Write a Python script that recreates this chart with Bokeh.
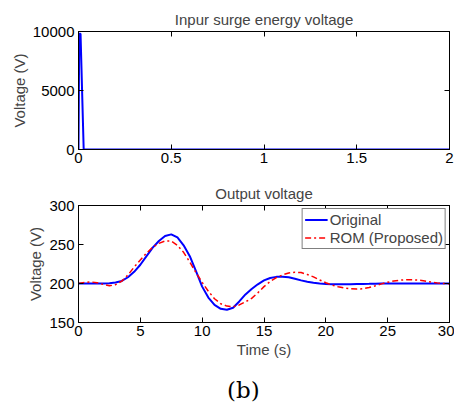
from bokeh.plotting import figure
from bokeh.models import Range1d, LinearAxis, FixedTicker, Legend, LegendItem, Div
from bokeh.layouts import column
from bokeh.embed import file_html
from bokeh.resources import INLINE

# ---- data ----
surge_t = [0.0, 0.004, 0.011, 0.028, 2.0]
surge_v = [0, 9800, 9800, 0, 0]

time_s = [0, 0.5, 1, 1.5, 2, 2.5, 3, 3.5, 4, 4.5, 5, 5.5, 6, 6.5, 7, 7.5, 8, 8.5, 9, 9.5,
          10, 10.5, 11, 11.5, 12, 12.5, 13, 13.5, 14, 14.5, 15, 15.5, 16, 16.5, 17, 17.5,
          18, 18.5, 19, 19.5, 20, 20.5, 21, 21.5, 22, 22.5, 23, 23.5, 24, 24.5, 25, 25.5,
          26, 26.5, 27, 27.5, 28, 28.5, 29, 29.5, 30]
original = [200, 200, 200, 200, 200, 200.3, 201.2, 203.3, 208, 215, 224, 235, 246, 254.5,
            261, 263, 259, 249, 235, 216, 196, 182, 172.5, 167.5, 166.3, 169, 177, 186, 193,
            199, 204, 207, 208.5, 208.8, 208, 206, 204, 202.3, 201, 200, 199.4, 199.1, 199,
            199, 199.1, 199.3, 199.5, 199.6, 199.8, 199.9, 200, 200, 200, 200, 200, 200, 200,
            200, 200, 200, 200]
rom = [200, 201.5, 202, 201, 198.8, 197, 198.5, 203, 211, 221, 230, 239, 246.5, 251.5, 254.5,
       254.5, 249, 240, 227.5, 214, 201.5, 190, 180.5, 174, 171, 170.2, 172.5, 176.5, 181, 188,
       196, 202.5, 207.5, 211, 213.5, 214.5, 214, 211.5, 208.5, 204.5, 201, 198, 195.8, 194.2,
       193.2, 192.8, 193.3, 194.8, 197, 199.5, 201.6, 203.2, 204.3, 204.8, 204.8, 204.3, 203.2,
       202, 200.8, 200, 199.5]

top_xticks = [0, 0.5, 1, 1.5, 2]
top_xlabels = ["0", "0.5", "1", "1.5", "2"]
top_yticks = [0, 5000, 10000]
bot_xticks = [0, 5, 10, 15, 20, 25, 30]
bot_yticks = [150, 200, 250, 300]

FONT = "Liberation Sans"
FS = "15px"


def style(p, xt, yt, xlabels=None):
    p.outline_line_color = "black"
    p.outline_line_width = 1
    p.xgrid.visible = False
    p.ygrid.visible = False
    p.title.text_font = FONT
    p.title.text_font_size = FS
    p.title.text_font_style = "normal"
    p.title.align = "center"
    p.title.standoff = 7
    for ax in p.xaxis:
        ax.ticker = FixedTicker(ticks=xt)
        if xlabels:
            ax.major_label_overrides = {k: v for k, v in zip(xt, xlabels)}
    for ax in p.yaxis:
        ax.ticker = FixedTicker(ticks=yt)
    # mirrored tick-only axes
    top = LinearAxis(ticker=FixedTicker(ticks=xt))
    right = LinearAxis(ticker=FixedTicker(ticks=yt))
    for ax in (top, right):
        ax.major_label_text_font_size = "1px"
        ax.major_label_text_color = None
        ax.major_label_standoff = 0
    p.add_layout(top, "above")
    p.add_layout(right, "right")
    for ax in p.axis:
        ax.major_tick_in = 5
        ax.major_tick_out = 0
        ax.minor_tick_line_color = None
        ax.axis_line_color = "black"
        ax.major_tick_line_color = "black"
        ax.major_label_text_font = FONT
        ax.axis_label_text_font = FONT
        ax.axis_label_text_font_size = FS
        ax.axis_label_text_font_style = "normal"
        ax.axis_label_standoff = 2
    p.below[0].major_label_text_font_size = FS
    p.below[0].major_label_text_color = "black"
    p.below[0].major_label_standoff = 3
    p.left[0].major_label_text_font_size = FS
    p.left[0].major_label_text_color = "black"
    p.left[0].major_label_standoff = 4


p1 = figure(width=454, height=178, output_backend="svg", toolbar_location=None,
            title="Inpur surge energy voltage",
            x_range=Range1d(0, 2), y_range=Range1d(0, 10000),
            min_border_left=78, min_border_right=5, min_border_top=31, min_border_bottom=29)
p1.line(surge_t, surge_v, line_color="#0000ff", line_width=2)
p1.yaxis.axis_label = "Voltage (V)"
style(p1, top_xticks, top_yticks, top_xlabels)

p2 = figure(width=454, height=182, output_backend="svg", toolbar_location=None,
            title="Output voltage",
            x_range=Range1d(0, 30), y_range=Range1d(150, 300),
            min_border_left=78, min_border_right=5, min_border_top=27, min_border_bottom=36)
r1 = p2.line(time_s, original, line_color="#0000ff", line_width=2)
r2 = p2.line(time_s, rom, line_color="#ff0000", line_width=1.5, line_dash="6 3 2 3")
p2.yaxis.axis_label = "Voltage (V)"
p2.xaxis.axis_label = "Time (s)"
style(p2, bot_xticks, bot_yticks)

legend = Legend(items=[LegendItem(label="Original", renderers=[r1]),
                       LegendItem(label="ROM (Proposed)", renderers=[r2])],
                location="top_right")
legend.border_line_color = "black"
legend.border_line_width = 1.5
legend.label_text_font = FONT
legend.label_text_font_size = FS
legend.glyph_width = 23
legend.glyph_height = 17
legend.label_height = 17
legend.label_standoff = 2
legend.spacing = 1
legend.padding = 2
legend.margin = 3
legend.background_fill_alpha = 1
p2.add_layout(legend)

cap = Div(text='<div style="margin-left:222px;padding-top:12px;font-family:\'DejaVu Serif\';'
               'font-size:23px;line-height:27px;">(b)</div>',
          width=440, height=40)

layout = column(p1, p2, cap)
open("out.html", "w").write(file_html(layout, INLINE))
